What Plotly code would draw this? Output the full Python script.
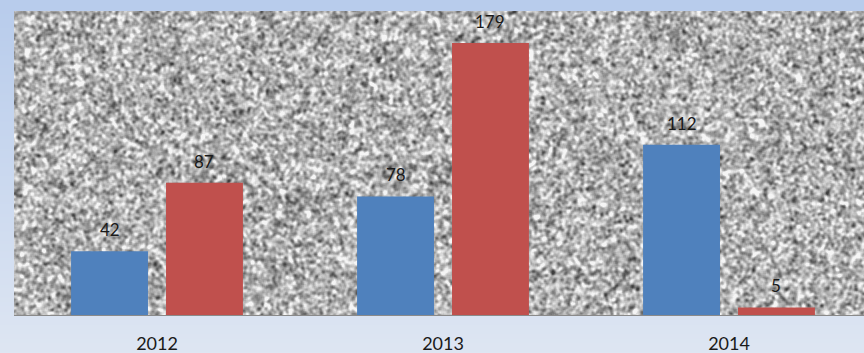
import base64
import struct
import zlib

import numpy as np
import plotly.graph_objects as go

# ---- data -------------------------------------------------------------
years = ["2012", "2013", "2014"]
series_a = [42, 78, 112]
series_b = [87, 179, 5]

# ---- layout constants -------------------------------------------------
W, H = 864, 353
M_L, M_R, M_T, M_B = 14, 0, 11, 38
Y_MAX = 200
X_SPAN = 2.972          # categories visible across the plot width
BARGAP, GROUPGAP = 0.336, 0.19
BLUE = "#4F81BD"
RED = "#C0504D"
FONT = "Lato"


def png_data_uri(rgb):
    """Encode an HxWx3 uint8 array as a PNG data URI (pure python)."""
    h, w, _ = rgb.shape
    raw = b"".join(b"\x00" + rgb[i].tobytes() for i in range(h))

    def chunk(tag, data):
        body = tag + data
        return struct.pack(">I", len(data)) + body + struct.pack(">I", zlib.crc32(body) & 0xFFFFFFFF)

    png = b"\x89PNG\r\n\x1a\n"
    png += chunk(b"IHDR", struct.pack(">IIBBBBB", w, h, 8, 2, 0, 0, 0))
    png += chunk(b"IDAT", zlib.compress(raw, 9))
    png += chunk(b"IEND", b"")
    return "data:image/png;base64," + base64.b64encode(png).decode()


def box_blur(a, r=1):
    out = np.zeros_like(a)
    n = 0
    for dy in range(-r, r + 1):
        for dx in range(-r, r + 1):
            out += np.roll(np.roll(a, dy, 0), dx, 1)
            n += 1
    return out / n


# background: pale blue vertical gradient with a grainy grey plot panel
top = np.array([184, 204, 236], float)
bot = np.array([222, 230, 243], float)
t = np.linspace(0, 1, H)[:, None, None]
bg = np.broadcast_to(top * (1 - t) + bot * t, (H, W, 3)).copy()

pw, ph = W - M_L - M_R, H - M_T - M_B
rng = np.random.default_rng(7)
coarse = rng.standard_normal((ph // 2 + 1, pw // 2 + 1))
coarse = np.kron(coarse, np.ones((2, 2)))[:ph, :pw]
fine = rng.standard_normal((ph, pw))
grain = box_blur(box_blur(coarse, 1), 1) + 0.25 * box_blur(fine, 1)
grain = (grain - grain.mean()) / grain.std()
grey = np.clip(177 + 34 * grain, 60, 245)
bg[M_T:M_T + ph, M_L:M_L + pw, :] = grey[:, :, None]
bg_uri = png_data_uri(bg.astype(np.uint8))

# ---- figure -----------------------------------------------------------
fig = go.Figure()
fig.add_trace(go.Bar(x=years, y=series_a, marker_color=BLUE, marker_line_width=0, name="A"))
fig.add_trace(go.Bar(x=years, y=series_b, marker_color=RED, marker_line_width=0, name="B"))

# value labels above each bar, centred on that bar's slot within the group
cat_px = pw / X_SPAN
slot = cat_px * (1 - BARGAP) / 2
for vals, shift in ((series_a, -slot / 2), (series_b, slot / 2)):
    for i, v in enumerate(vals):
        fig.add_annotation(
            x=i, y=v, xref="x", yref="y", text=str(v), showarrow=False,
            xshift=shift, yshift=9, yanchor="bottom",
            font=dict(family=FONT, size=17, color="#1a1a1a"),
        )

fig.add_layout_image(
    source=bg_uri, xref="paper", yref="paper",
    x=-M_L / pw, y=1 + M_T / ph, sizex=W / pw, sizey=H / ph,
    xanchor="left", yanchor="top", sizing="stretch", layer="below",
)

fig.update_layout(
    width=W, height=H,
    margin=dict(l=M_L, r=M_R, t=M_T, b=M_B, pad=0, autoexpand=False),
    paper_bgcolor="rgba(0,0,0,0)", plot_bgcolor="rgba(0,0,0,0)",
    barmode="group", bargap=BARGAP, bargroupgap=GROUPGAP,
    showlegend=False,
    xaxis=dict(
        type="category", range=[-0.5, -0.5 + X_SPAN], showgrid=False, automargin=False,
        showline=True, linecolor="#8a8a8a", linewidth=1,
        ticks="", ticklabelstandoff=12,
        tickfont=dict(family=FONT, size=18, color="#1a1a1a"),
    ),
    yaxis=dict(range=[0, Y_MAX], showgrid=False, zeroline=False, automargin=False,
               showticklabels=False, ticks=""),
)

fig.write_html("out.html")
